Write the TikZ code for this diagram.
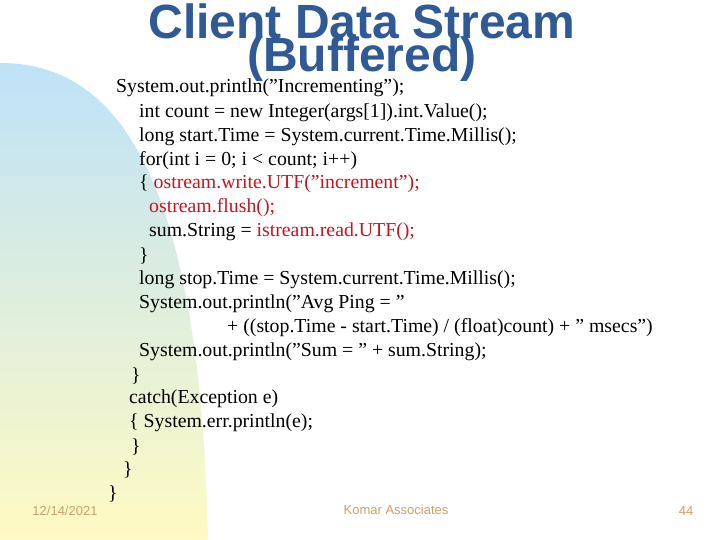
\documentclass[tikz,border=0pt]{standalone}
\usepackage{fontspec}
\setmainfont{Liberation Serif}[Ligatures=ResetAll]
\newfontfamily\arialf{Liberation Sans}
\definecolor{ttl}{RGB}{48,90,150}
\definecolor{cred}{RGB}{200,20,30}
\definecolor{foot}{RGB}{205,160,110}
\definecolor{topc}{RGB}{190,226,248}
\definecolor{botc}{RGB}{255,250,195}
\begin{document}
\begin{tikzpicture}[x=1pt,y=-1pt,
  code/.style={anchor=west,inner sep=0pt,font=\fontsize{19.8}{21}\selectfont},
  ttlst/.style={inner sep=0pt,text=ttl,font=\arialf\bfseries\fontsize{48}{50}\selectfont},
  ft/.style={inner sep=0pt,font=\arialf\fontsize{13}{14}\selectfont}]
\useasboundingbox (0,0) rectangle (720,540);
\fill[white] (0,0) rectangle (720,540);
\shade[top color=topc,bottom color=botc] (0,63) .. controls (115,63) and (200,170) .. (208,540) -- (0,540) -- cycle;
\node[ttlst] (t1) at (362,21) {Client Data Stream};
\node[ttlst] (t2) at (362,59) {(Buffered)};
\node[code] (l1) at (116,88) {System.out.println("Incrementing");};
\node[code] (l2) at (139,113) {int count = new Integer(args[1]).int.Value();};
\node[code] (l3) at (139,137) {long start.Time = System.current.Time.Millis();};
\node[code] (l4) at (139,161) {for(int i = 0; i < count; i++)};
\node[code] (l5) at (139,184) {\{ \textcolor{cred}{ostream.write.UTF("increment");}};
\node[code,text=cred] (l6) at (149,208) {ostream.flush();};
\node[code] (l7) at (149,232) {sum.String = \textcolor{cred}{istream.read.UTF();}};
\node[code] (l8) at (139,256) {\}};
\node[code] (l9) at (139,280) {long stop.Time = System.current.Time.Millis();};
\node[code] (l10) at (139,304) {System.out.println("Avg Ping = "};
\node[code] (l11) at (227,328) {+ ((stop.Time - start.Time) / (float)count) + " msecs")};
\node[code] (l12) at (139,352) {System.out.println("Sum = " + sum.String);};
\node[code] (l13) at (131,376) {\}};
\node[code] (l14) at (129,399) {catch(Exception e)};
\node[code] (l15) at (129,423) {\{ System.err.println(e);};
\node[code] (l16) at (131,447) {\}};
\node[code] (l17) at (123,470) {\}};
\node[code] (l18) at (108,494) {\}};
\node[ft,text=foot] (d) at (65,511) {12/14/2021};
\node[ft,text=foot] (k) at (396,510) {Komar Associates};
\node[ft,text=foot] (p) at (686,511) {44};
\end{tikzpicture}
\end{document}
